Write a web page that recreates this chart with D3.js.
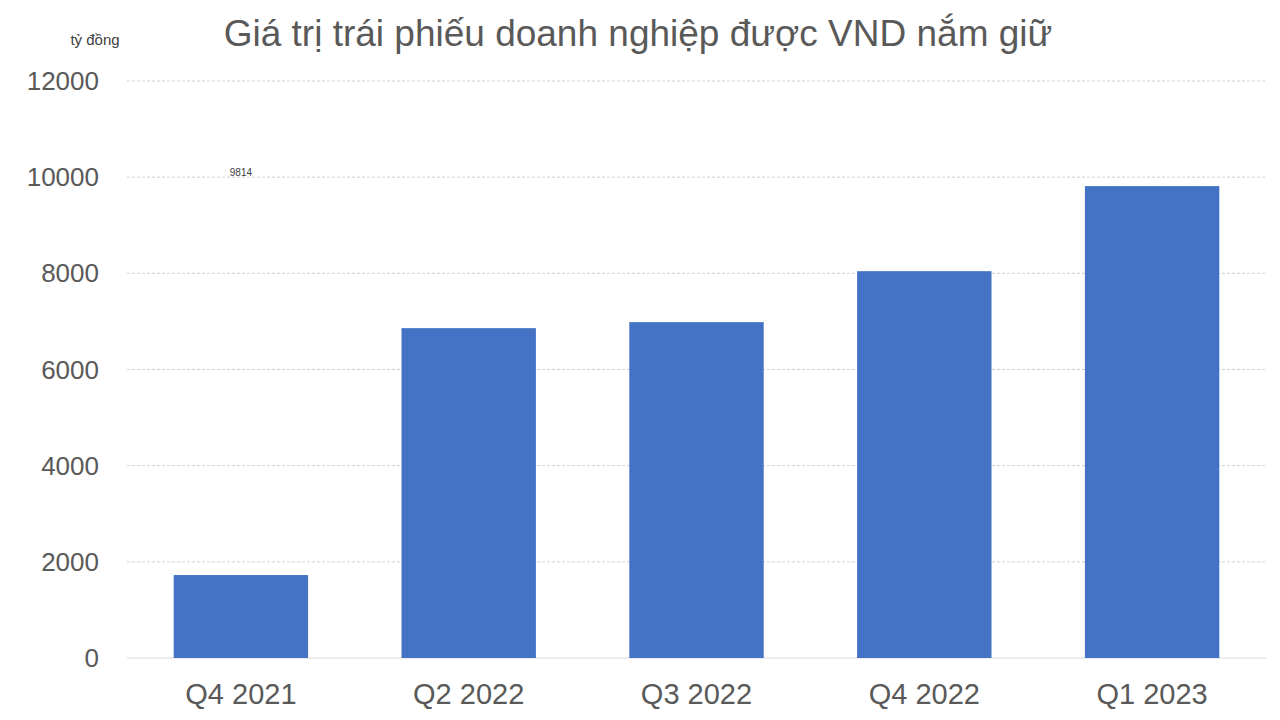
<!DOCTYPE html>
<html>
<head>
<meta charset="utf-8">
<script src="https://cdn.jsdelivr.net/npm/d3@7"></script>
<style>
body { margin: 0; background: #fff; }
text { font-family: "Liberation Sans", Arial, sans-serif; }
</style>
</head>
<body>
<script>
var categories = ['Q4 2021', 'Q2 2022', 'Q3 2022', 'Q4 2022', 'Q1 2023'];
var values = [1725, 6860, 6985, 8045, 9814];
var yTicks = [0, 2000, 4000, 6000, 8000, 10000, 12000];
var labelled = [false, false, false, false, true];

var width = 1280, height = 720;
var plotLeft = 127, plotRight = 1266, plotTop = 81, plotBottom = 658;

var svg = d3.select('body').append('svg')
    .attr('width', width)
    .attr('height', height);

var x = d3.scaleBand().domain(categories).range([plotLeft, plotRight]).paddingInner(0.41).paddingOuter(0.205);
var y = d3.scaleLinear().domain([0, 12000]).range([plotBottom, plotTop]);

// grid
svg.selectAll('line.grid')
    .data(yTicks.filter(function(d) { return d > 0; }))
    .enter().append('line')
    .attr('x1', plotLeft).attr('x2', plotRight)
    .attr('y1', function(d) { return y(d); })
    .attr('y2', function(d) { return y(d); })
    .attr('stroke', '#d0d0d0')
    .attr('stroke-dasharray', '3,2');

svg.append('line')
    .attr('x1', plotLeft).attr('x2', plotRight)
    .attr('y1', plotBottom).attr('y2', plotBottom)
    .attr('stroke', '#d9d9d9');

svg.selectAll('text.ytick')
    .data(yTicks)
    .enter().append('text')
    .attr('x', 99).attr('y', function(d) { return y(d) + 9; })
    .attr('text-anchor', 'end')
    .attr('font-size', 26)
    .attr('fill', '#595959')
    .text(function(d) { return d; });

svg.selectAll('rect.bar')
    .data(values)
    .enter().append('rect')
    .attr('x', function(d, i) { return x(categories[i]); })
    .attr('width', x.bandwidth())
    .attr('y', function(d) { return y(d); })
    .attr('height', function(d) { return plotBottom - y(d); })
    .attr('fill', '#4472c4');

svg.selectAll('text.val')
    .data(values)
    .enter().filter(function(d, i) { return labelled[i]; })
    .append('text')
    .attr('x', function(d, i) { return x(categories[i]) + x.bandwidth() / 2; })
    .attr('y', function(d) { return y(d) - 10; })
    .attr('text-anchor', 'middle')
    .attr('font-size', 10)
    .attr('fill', '#404040')
    .text(function(d) { return d; });

svg.selectAll('text.xtick')
    .data(categories)
    .enter().append('text')
    .attr('x', function(d) { return x(d) + x.bandwidth() / 2; })
    .attr('y', 704)
    .attr('text-anchor', 'middle')
    .attr('font-size', 29)
    .attr('fill', '#595959')
    .text(function(d) { return d; });

svg.append('text')
    .attr('x', 638).attr('y', 46)
    .attr('text-anchor', 'middle')
    .attr('font-size', 37)
    .attr('fill', '#595959')
    .text('Giá trị trái phiếu doanh nghiệp được VND nắm giữ');

svg.append('text')
    .attr('x', 95).attr('y', 45)
    .attr('text-anchor', 'middle')
    .attr('font-size', 15)
    .attr('fill', '#404040')
    .text('tỷ đồng');
</script>
</body>
</html>
